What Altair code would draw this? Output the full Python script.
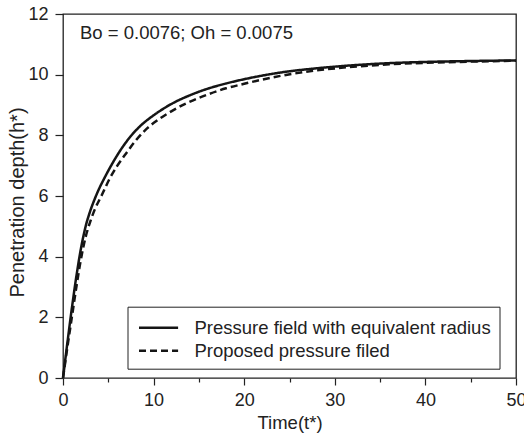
import altair as alt
import pandas as pd

# --- data ---
series_names = ["Pressure field with equivalent radius", "Proposed pressure filed"]

t_solid = [0, 0.5, 1.0, 1.5, 2.0, 2.5, 3.0, 3.5, 4.0, 4.5, 5.5, 6.5, 7.5, 8.5,
           10, 12, 14, 16, 18, 20, 24, 28, 32, 36, 40, 45, 50]
h_solid = [0, 1.2, 2.35, 3.4, 4.3, 5.0, 5.5, 5.9, 6.25, 6.55, 7.1, 7.58, 7.98, 8.3,
           8.66, 9.04, 9.32, 9.54, 9.71, 9.85, 10.07, 10.21, 10.31, 10.38, 10.42, 10.45, 10.47]

t_dashed = [0, 0.5, 1.0, 1.5, 2.0, 2.5, 3.0, 3.5, 4.3, 5.2, 6.0, 7.0, 8.0, 9.0,
            10.3, 12, 13.65, 16, 18, 20, 24, 28, 32, 36, 40, 45, 50]
h_dashed = [0, 1.05, 2.05, 3.05, 3.95, 4.65, 5.15, 5.55, 6.04, 6.6, 7.0, 7.42, 7.82, 8.15,
            8.47, 8.8, 9.06, 9.35, 9.55, 9.7, 9.96, 10.14, 10.26, 10.34, 10.39, 10.43, 10.46]

x_ticks = [0, 5, 10, 15, 20, 25, 30, 35, 40, 45, 50]
y_ticks = list(range(0, 13))

annotation = ["Bo = 0.0076; Oh = 0.0075"]
annot_t = [1.88]
annot_h = [11.19]

df = pd.concat([
    pd.DataFrame({"t": t_solid, "h": h_solid, "series": series_names[0], "order": range(len(t_solid))}),
    pd.DataFrame({"t": t_dashed, "h": h_dashed, "series": series_names[1], "order": range(len(t_dashed))}),
])
df_text = pd.DataFrame({"t": annot_t, "h": annot_h, "label": annotation})

FONT = "Liberation Sans"
INK = "#222222"

x_enc = alt.X(
    "t:Q",
    scale=alt.Scale(domain=[0, 50], nice=False, zero=False),
    axis=alt.Axis(
        title="Time(t*)",
        values=x_ticks,
        labelExpr="datum.value % 10 === 0 ? datum.label : ''",
        tickSize={"condition": {"test": "datum.value % 10 === 0", "value": 7}, "value": 4},
        labelPadding=6,
        labelFlush=False,
        labelOverlap=False,
        titleX=226.5,
        titleY=50,
        titleBaseline="alphabetic",
    ),
)
y_enc = alt.Y(
    "h:Q",
    scale=alt.Scale(domain=[0, 12], nice=False),
    axis=alt.Axis(
        title="Penetration depth(h*)",
        values=y_ticks,
        labelExpr="datum.value % 2 === 0 ? datum.label : ''",
        tickSize={"condition": {"test": "datum.value % 2 === 0", "value": 8}, "value": 5},
        labelPadding=7,
        labelFlush=False,
        labelOverlap=False,
        titleX=-40,
        titleY=188,
        titleBaseline="alphabetic",
        titleFontSize=20,
    ),
)

lines = alt.Chart(df).mark_line(strokeWidth=2.5, color="#151515", interpolate="monotone").encode(
    x=x_enc,
    y=y_enc,
    order="order:Q",
    strokeDash=alt.StrokeDash(
        "series:N",
        scale=alt.Scale(domain=series_names, range=[[1, 0], [7, 4]]),
        legend=alt.Legend(
            title=None,
            orient="none",
            legendX=64.5,
            legendY=292.7,
            symbolType="M-1,0H2.4",
            symbolSize=529,
            symbolOffset=2,
            symbolStrokeWidth=2.5,
            symbolStrokeColor="#151515",
            labelOffset=31,
            labelFontSize=18.5,
            labelFont=FONT,
            labelColor=INK,
            labelLimit=0,
            rowPadding=0,
            padding=8,
            strokeColor=INK,
            fillColor="white",
        ),
    ),
)

text = alt.Chart(df_text).mark_text(
    align="left", baseline="alphabetic", fontSize=18.5, font=FONT, color=INK
).encode(x="t:Q", y="h:Q", text="label:N")

chart = (
    alt.layer(lines, text)
    .properties(
        width=453,
        height=364,
        autosize=alt.AutoSizeParams(type="none"),
        padding={"left": 63, "top": 14, "right": 8, "bottom": 61},
        background="white",
    )
    .configure_view(stroke=INK, strokeWidth=1.3)
    .configure_axis(
        domain=False,
        grid=False,
        tickColor=INK,
        tickWidth=1.2,
        labelFont=FONT,
        labelFontSize=18,
        labelColor=INK,
        titleFont=FONT,
        titleFontSize=18.5,
        titleColor=INK,
        titleFontWeight="normal",
    )
)

chart.save("out.html", embed_options={"renderer": "svg", "actions": False})
